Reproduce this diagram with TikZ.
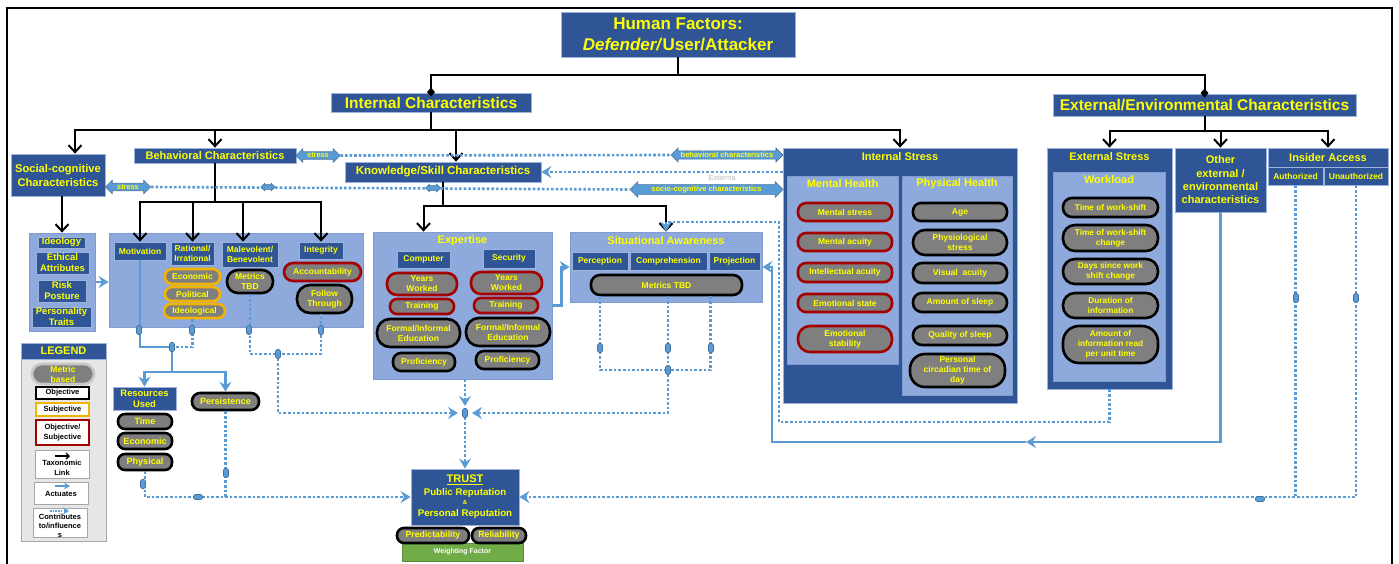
\documentclass[tikz,border=0pt]{standalone}
\usepackage{fontspec}
\setmainfont{Liberation Sans}
\usetikzlibrary{arrows.meta,positioning,shapes.arrows,calc}
\definecolor{dkblue}{HTML}{2F5597}
\definecolor{hdredge}{HTML}{9DB3DE}
\definecolor{ltblue}{HTML}{8EA9DB}
\definecolor{areaedge}{HTML}{7F9BD0}
\definecolor{lnblue}{HTML}{5B9BD5}
\definecolor{tagedge}{HTML}{41719C}
\definecolor{ylw}{HTML}{FFFF00}
\definecolor{pillgray}{HTML}{7F7F7F}
\definecolor{objred}{HTML}{A50000}
\definecolor{subjorg}{HTML}{F2B400}
\definecolor{wgreen}{HTML}{70AD47}
\definecolor{lggray}{HTML}{E7E6E6}
\definecolor{lgedge}{HTML}{A6A6A6}
\newcommand\setfs[2]{\fontsize{#1}{#2}\selectfont\bfseries}

\begin{document}
\begin{tikzpicture}[x=1pt,y=-1pt,
  hdr/.style={fill=dkblue,draw=hdredge,line width=0.8pt,text=ylw,align=center,inner sep=0pt},
  sub/.style={hdr,font=\setfs{8.5}{10.5}},
  area/.style={fill=ltblue,draw=areaedge,line width=0.8pt,inner sep=0pt},
  ttl/.style={text=ylw,inner sep=1pt,font=\setfs{11}{13}},
  pill/.style={rectangle,rounded corners=#1,fill=pillgray,draw=black,line width=2.6pt,text=ylw,align=center,inner sep=0pt,font=\setfs{8.5}{10}},
  pill/.default=8pt,
  pillr/.style={pill=#1,draw=objred},
  pillr/.default=8pt,
  pillo/.style={pill=#1,draw=subjorg},
  pillo/.default=7pt,
  tax/.style={draw=black,line width=2pt,>={Straight Barb[length=7pt,width=13pt]}},
  act/.style={draw=lnblue,line width=2.6pt,>={Stealth[length=10pt,width=12pt,inset=3.5pt]}},
  infl/.style={act,dash pattern=on 2.6pt off 2pt},
  tagmk/.style={fill=lnblue,draw=tagedge,line width=0.6pt,rounded corners=1.5pt,inner sep=0pt,minimum width=5pt,minimum height=9pt},
  dbl/.style={double arrow,double arrow head extend=3pt,fill=lnblue,draw=tagedge,line width=0.6pt,text=ylw,inner sep=1pt,font=\setfs{7.5}{8.5}},
  lgbox/.style={fill=white,draw=gray!70,line width=0.8pt,inner sep=0pt,align=center,font=\setfs{7.5}{9.5}},
]
\useasboundingbox (0,0) rectangle (1399,563);

% frame
\draw[line width=1.6pt] (7,575) |- (1392,8) -- (1392,575);

% ============ top ============
\node[hdr,minimum width=234,minimum height=45,font=\setfs{17}{21}] (hf) at (678,34.5)
  {Human Factors:\\\textit{Defender/}User/Attacker};
\node[hdr,minimum width=200,minimum height=19,font=\setfs{15.5}{17}] (intc) at (431,102.5) {Internal Characteristics};
\node[hdr,minimum width=303,minimum height=22,font=\setfs{15.5}{17}] (extc) at (1204.5,105) {External/Environmental Characteristics};

% ============ internal: second level ============
\node[hdr,minimum width=94,minimum height=42,font=\setfs{11.2}{14}] (soc) at (58,175) {Social-cognitive\\Characteristics};
\node[hdr,minimum width=162,minimum height=15,font=\setfs{11}{13}] (beh) at (215,155.5) {Behavioral Characteristics};
\node[hdr,minimum width=196,minimum height=20,font=\setfs{11.5}{13}] (know) at (443,172) {Knowledge/Skill Characteristics};

% social-cognitive attributes
\node[area,minimum width=66,minimum height=98] (attr) at (62,282) {};
\node[hdr,minimum width=47,minimum height=11,font=\setfs{9.5}{11}] (idl) at (61.5,242.5) {Ideology};
\node[hdr,minimum width=53,minimum height=22,font=\setfs{9.5}{11}] (eth) at (62.5,263) {Ethical\\Attributes};
\node[hdr,minimum width=48,minimum height=22,font=\setfs{9.5}{11}] (risk) at (62,291) {Risk\\Posture};
\node[hdr,minimum width=59,minimum height=20,font=\setfs{9.5}{11}] (pers) at (61.5,317) {Personality\\Traits};

% behavioral panel
\node[area,minimum width=254,minimum height=94] (behp) at (236,280) {};
\node[sub,minimum width=52,minimum height=18] (motiv) at (140,251) {Motivation};
\node[sub,minimum width=43,minimum height=23] (ratl) at (192.5,253.5) {Rational/\\Irrational};
\node[sub,minimum width=56,minimum height=25] (malev) at (250,254.5) {Malevolent/\\Benevolent};
\node[sub,minimum width=44,minimum height=17] (integ) at (321,250.5) {Integrity};
\node[pillo,minimum width=55,minimum height=15] (eco) at (192.5,276.5) {Economic};
\node[pillo,minimum width=55,minimum height=14] (pol) at (192.5,294) {Political};
\node[pillo,minimum width=61,minimum height=14] (ideo) at (194.5,311) {Ideological};
\node[pill=11pt,minimum width=46,minimum height=23] (mtbdb) at (250,281.5) {Metrics\\TBD};
\node[pillr=9pt,minimum width=77,minimum height=18] (acc) at (322.5,272) {Accountability};
\node[pill=13pt,minimum width=55,minimum height=28] (fol) at (324.5,299) {Follow\\Through};

% resources / persistence
\node[hdr,minimum width=63,minimum height=23,font=\setfs{9.4}{11}] (res) at (144.5,398.5) {Resources\\Used};
\node[pill=7pt,minimum width=54,minimum height=15,font=\setfs{9}{10}] (time) at (145,421.5) {Time};
\node[pill=7pt,minimum width=54,minimum height=16,font=\setfs{9}{10}] (ecor) at (145,441) {Economic};
\node[pill=7pt,minimum width=54,minimum height=16,font=\setfs{9}{10}] (phys) at (145,462) {Physical};
\node[pill=8pt,minimum width=67,minimum height=17,font=\setfs{9}{10}] (persist) at (225.5,401.5) {Persistence};

% expertise
\node[area,minimum width=179,minimum height=147] (expt) at (462.5,305.5) {};
\node[ttl] (exptT) at (462.5,241) {Expertise};
\node[sub,minimum width=53,minimum height=17] (comp) at (423.5,259.5) {Computer};
\node[sub,minimum width=52,minimum height=19] (secu) at (509,258.5) {Security};
\node[pillr=10pt,minimum width=70,minimum height=22] (ywa) at (422,284) {Years\\Worked};
\node[pillr=7pt,minimum width=64,minimum height=15] (tra) at (422,306.5) {Training};
\node[pill=13pt,minimum width=83,minimum height=28] (fea) at (418.5,333) {Formal/Informal\\Education};
\node[pill=8pt,minimum width=62,minimum height=18] (pra) at (424,362) {Proficiency};
\node[pillr=10pt,minimum width=71,minimum height=22] (ywb) at (506.5,283) {Years\\Worked};
\node[pillr=7pt,minimum width=64,minimum height=15] (trb) at (506,305.5) {Training};
\node[pill=13pt,minimum width=84,minimum height=28] (feb) at (508,332) {Formal/Informal\\Education};
\node[pill=8pt,minimum width=63,minimum height=18] (prb) at (507.5,360) {Proficiency};

% situational awareness
\node[area,minimum width=192,minimum height=70] (sa) at (666,267) {};
\node[ttl] (saT) at (666,241) {Situational Awareness};
\node[sub,minimum width=56,minimum height=18] (perc) at (600,261) {Perception};
\node[sub,minimum width=77,minimum height=18] (compr) at (668.5,261) {Comprehension};
\node[sub,minimum width=51,minimum height=18] (proj) at (734.5,261) {Projection};
\node[pill=9pt,minimum width=151,minimum height=20] (mtbd) at (666.5,285) {Metrics TBD};

% internal stress
\node[hdr,minimum width=234,minimum height=255] (ist) at (900,275.5) {};
\node[ttl] (istT) at (900,157) {Internal Stress};
\node[area,minimum width=111,minimum height=188] (mh) at (842.5,270) {};
\node[ttl] (mhT) at (842.5,184) {Mental Health};
\node[area,minimum width=110,minimum height=219] (ph) at (957,285.5) {};
\node[ttl] (phT) at (957,184) {Physical Health};
\node[pillr=8pt,minimum width=94,minimum height=18] (mst) at (845,212) {Mental stress};
\node[pillr=8pt,minimum width=94,minimum height=18] (mac) at (845,242) {Mental acuity};
\node[pillr=8pt,minimum width=94,minimum height=19] (iac) at (845,272.5) {Intellectual acuity};
\node[pillr=8pt,minimum width=94,minimum height=18] (est) at (845,303) {Emotional state};
\node[pillr=12pt,minimum width=94,minimum height=26] (estb) at (845,339) {Emotional\\stability};
\node[pill=8pt,minimum width=94,minimum height=18] (age) at (960,212) {Age};
\node[pill=12pt,minimum width=94,minimum height=25] (phs) at (960,242.5) {Physiological\\stress};
\node[pill=9pt,minimum width=94,minimum height=20] (vac) at (960,273) {Visual\ \ acuity};
\node[pill=9pt,minimum width=94,minimum height=19] (aos) at (960,302.5) {Amount of sleep};
\node[pill=9pt,minimum width=94,minimum height=19] (qos) at (960,335.5) {Quality of sleep};
\node[pill=15pt,minimum width=95,minimum height=33] (pct) at (957.5,370.5) {Personal\\circadian time of\\day};

% ============ external ============
\node[hdr,minimum width=125,minimum height=241] (exst) at (1109.5,268.5) {};
\node[ttl] (exstT) at (1109.5,157) {External Stress};
\node[area,minimum width=112,minimum height=209] (wl) at (1109,276.5) {};
\node[ttl] (wlT) at (1109,180) {Workload};
\node[pill=9pt,minimum width=95,minimum height=19,font=\setfs{8.3}{10}] (wsa) at (1110.5,207.5) {Time of work-shift};
\node[pill=12pt,minimum width=95,minimum height=26,font=\setfs{8.3}{10}] (wsb) at (1110.5,238) {Time of work-shift\\change};
\node[pill=12pt,minimum width=95,minimum height=25,font=\setfs{8.3}{10}] (wsc) at (1110.5,271.5) {Days since work\\shift change};
\node[pill=12pt,minimum width=95,minimum height=25,font=\setfs{8.3}{10}] (wsd) at (1110.5,305.5) {Duration of\\information};
\node[pill=16pt,minimum width=95,minimum height=37,font=\setfs{8.3}{10}] (wse) at (1110.5,344.5) {Amount of\\information read\\per unit time};
\node[hdr,minimum width=91,minimum height=64,font=\setfs{11}{13.3}] (other) at (1220.5,180) {Other\\external /\\environmental\\characteristics};
\node[hdr,minimum width=120,minimum height=19,font=\setfs{11}{13}] (insd) at (1328,157.5) {Insider Access};
\node[sub,minimum width=55,minimum height=18] (auth) at (1295.5,176) {Authorized};
\node[sub,minimum width=64,minimum height=18] (unauth) at (1356,176) {Unauthorized};

% ============ trust ============
\node[fill=wgreen,draw=wgreen!80!black,line width=0.6pt,minimum width=121,minimum height=18,text=white,font=\setfs{7}{8}] (wf) at (462.5,552) {Weighting Factor};
\node[hdr,minimum width=108,minimum height=56,font=\setfs{9.7}{12}] (trust) at (465,497)
  {{\setfs{11}{12}\underline{TRUST}}\\[1pt]Public Reputation\\[-3pt]{\setfs{6}{7}\&}\\Personal Reputation};
\node[pill=7pt,minimum width=72,minimum height=15,font=\setfs{8.7}{10}] (pred) at (433,535.5) {Predictability};
\node[pill=7pt,minimum width=54,minimum height=15,font=\setfs{8.7}{10}] (rel) at (499,535.5) {Reliability};

% ============ legend ============
\node[fill=lggray,draw=lgedge,line width=1pt,minimum width=85,minimum height=198] (lgd) at (63.5,442) {};
\node[hdr,minimum width=85,minimum height=16,font=\setfs{11}{13}] (lgdH) at (63.5,351) {LEGEND};
\node[pill=10pt,draw=gray!45,minimum width=62,minimum height=20] (lgMet) at (63,374) {Metric\\based};
\node[lgbox,draw=black,line width=2.5pt,minimum width=53,minimum height=12] (lgObj) at (62.5,393) {Objective};
\node[lgbox,draw=subjorg,line width=2.5pt,minimum width=53,minimum height=13] (lgSub) at (62.5,409.5) {Subjective};
\node[lgbox,draw=objred,line width=2.5pt,minimum width=53,minimum height=25] (lgOS) at (62.5,432.5) {Objective/\\Subjective};
\node[lgbox,minimum width=54,minimum height=28] (lgTax) at (62,464) {};
\node[font=\setfs{7.5}{9.5},align=center,inner sep=0pt] (lgTaxT) at (62,468) {Taxonomic\\Link};
\node[lgbox,minimum width=54,minimum height=22] (lgAct) at (61,493) {};
\node[font=\setfs{7.5}{9.5},inner sep=0pt] (lgActT) at (61,494) {Actuates};
\node[lgbox,minimum width=54,minimum height=29] (lgCon) at (60,522.5) {};
\node[font=\setfs{7.5}{9.3},align=center,inner sep=0pt] (lgConT) at (60,526) {Contributes\\to/influence\\s};
\coordinate (lgTa) at (55,456); \coordinate (lgTb) at (70,456);
\coordinate (lgAa) at (55,486); \coordinate (lgAb) at (70,486);
\coordinate (lgCa) at (50,511); \coordinate (lgCb) at (69,511);
\draw[tax,line width=1.3pt,>={Straight Barb[length=3pt,width=6pt]},->] (lgTa) -- (lgTb);
\draw[act,line width=1.5pt,>={Stealth[length=6pt,width=7pt,inset=2pt]},->] (lgAa) -- (lgAb);
\draw[infl,line width=1.5pt,dash pattern=on 1.5pt off 1.2pt,>={Stealth[length=6pt,width=7pt,inset=2pt]},->] (lgCa) -- (lgCb);

% ============ taxonomic links ============
\coordinate (jTop) at (678,75);
\draw[tax] (hf.south) -- (jTop);
\draw[tax,-{Diamond[length=9pt,width=8pt]},shorten >=-4pt] (jTop) -| (intc.north);
\draw[tax,-{Diamond[length=9pt,width=8pt]},shorten >=-4pt] (jTop) -| (extc.north);
\coordinate (jInt) at (431,130);
\draw[tax] (intc.south) -- (jInt);
\draw[tax,->] (jInt) -| ([xshift=17pt]soc.north);
\draw[tax,->] (jInt) -| (beh.north);
\draw[tax,->] (jInt) -| ([xshift=13pt]know.north);
\draw[tax,->] (jInt) -| (ist.north);
\draw[tax,->] (soc.south -| attr.north) -- (attr.north);
\coordinate (jBeh) at (215,202);
\draw[tax] (beh.south) -- (jBeh);
\draw[tax,->] (jBeh) -| (motiv.north);
\draw[tax,->] (jBeh) -| (ratl.north);
\draw[tax,->] (jBeh) -| ([xshift=-7pt]malev.north);
\draw[tax,->] (jBeh) -| (integ.north);
\coordinate (jKnow) at (443,206);
\draw[tax] (know.south) -- (jKnow);
\draw[tax,->] (jKnow) -| (expt.north -| comp.north);
\draw[tax,->] (jKnow) -| (sa.north);
\coordinate (jExt) at (1204.5,131);
\draw[tax] (extc.south) -- (jExt);
\draw[tax,->] (jExt) -| (exst.north);
\draw[tax,->] (jExt) -| (other.north);
\draw[tax,->] (jExt) -| (insd.north);

% ============ actuates ============
\draw[act,->] (attr.east) -- (attr.east -| behp.west);
\coordinate (jMot) at (172,347);
\coordinate (jRes) at (172,372);
\draw[act] (motiv.south) |- (jMot);
\draw[act] (jMot) -- (jRes);
\draw[act,->] (jRes) -| (res.north);
\draw[act,->] (jRes) -| (persist.north);
\draw[act,->] (expt.east) -- ++(9,0) |- (sa.west);
\coordinate (oArr) at (1026,442);
\coordinate (oJ) at (772,442);
\draw[act,->] (other.south) |- (oArr);
\draw[act,->] (oArr) -- (oJ) |- (sa.east);

% ============ contributes / influences ============
\draw[infl] (ideo.south -| ratl.south) |- (jMot);
\coordinate (jMal) at (278,354);
\draw[infl] (mtbdb.south) |- (jMal) -| (fol.south -| integ.south);
\coordinate (jMg) at (465,413);
\coordinate (mgL) at (458,413);
\coordinate (mgR) at (472,413);
\coordinate (mgT) at (465,406);
\draw[infl,->] (jMal) |- (mgL);
\draw[infl,->] (expt.south -| jMg) -- (mgT);
\coordinate (jSA) at (668,370);
\draw[infl] (perc.south |- mtbd.south) |- (jSA);
\draw[infl] ([xshift=2pt]proj.south west |- mtbd.south) |- (jSA);
\draw[infl,->] (mtbd.south -| jSA) -- (jSA) |- (mgR);
\draw[infl,->] (jMg) -- (trust.north -| jMg);
\draw[infl,->] (phys.south) |- (trust.west);
\draw[infl] (persist.south) -- (persist.south |- trust.west);
\draw[infl] (auth.south) -- (auth.south |- trust.east);
\draw[infl,->] (unauth.south) |- (trust.east);
\coordinate (esJ) at (779,422);
\coordinate (esK) at (779,222);
\draw[infl,->] (exst.south) |- (esJ) |- (sa.north |- esK) -- (sa.north);
\draw[infl,->] (ist.west |- know.east) -- (know.east);

% stress exchanges
\node[dbl,minimum height=44,font=\setfs{7.3}{8}] (stA) at (318,155.5) {stress};
\node[dbl,minimum height=112] (bch) at (727,155) {behavioral characteristics};
\node[dbl,minimum height=45,font=\setfs{7.3}{8}] (stB) at (128,187) {stress};
\node[dbl,minimum height=153] (sch) at (706.5,189.5) {socio-cognitive characteristics};
\draw[infl] (stA.east) -- (bch.west);
\draw[infl] (stB.east) -- (sch.west);
\node[dbl,minimum height=14,inner sep=2pt,double arrow head extend=1.5pt] (sdA) at (268,187) {};
\node[dbl,minimum height=15,inner sep=2pt,double arrow head extend=1.5pt] (sdB) at (433,188) {};
\node[text=gray!40,font=\setfs{7.5}{8},inner sep=0pt] (ghost) at (722,178) {Externa};

% junction markers
\foreach \p [count=\i] in {(139,330),(192,330),(249,330),(321,330),(172,347),(278,354),(143,484),(226,473),
    (600,348),(668,348),(711,348),(668,370),(465,413),(1296,298),(1356,298)}
  \node[tagmk] (tv\i) at \p {};
\foreach \p [count=\i] in {(198,497),(1260,499)}
  \node[tagmk,rotate=90] (th\i) at \p {};

\end{tikzpicture}
\end{document}
